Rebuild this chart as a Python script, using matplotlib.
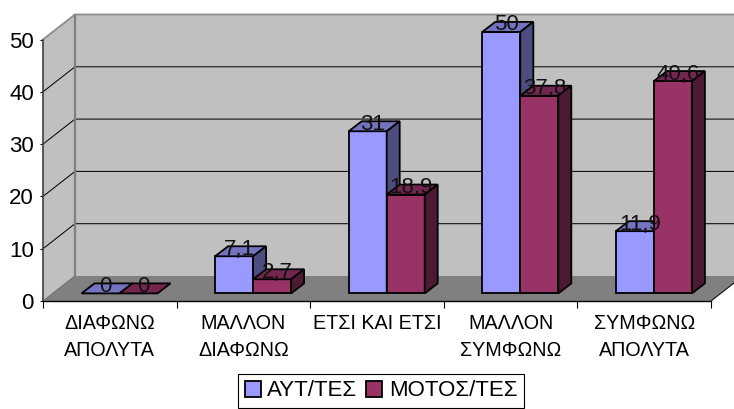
import matplotlib
matplotlib.use("Agg")
import matplotlib.pyplot as plt
from matplotlib.patches import Polygon, Patch

plt.rcParams['font.family'] = ['Liberation Sans', 'DejaVu Sans']

categories = ["ΔΙΑΦΩΝΩ\nΑΠΟΛΥΤΑ", "ΜΑΛΛΟΝ\nΔΙΑΦΩΝΩ", "ΕΤΣΙ ΚΑΙ ΕΤΣΙ", "ΜΑΛΛΟΝ\nΣΥΜΦΩΝΩ", "ΣΥΜΦΩΝΩ\nΑΠΟΛΥΤΑ"]
aut_tes = [0, 7.1, 31, 50, 11.9]
motos_tes = [0, 2.7, 18.9, 37.8, 40.6]
aut_labels = ["0", "7,1", "31", "50", "11,9"]
motos_labels = ["0", "2,7", "18,9", "37,8", "40,6"]
y_ticks = [0, 10, 20, 30, 40, 50]
series_names = ["ΑΥΤ/ΤΕΣ", "ΜΟΤΟΣ/ΤΕΣ"]

W, H = 734, 409
left, right, y0, y50 = 43, 711, 301, 39.5
px_x = (right - left) / 5   # pixels per category
px_y = (y0 - y50) / 50      # pixels per value unit

fig = plt.figure(figsize=(W / 100, H / 100), dpi=100)
ax = fig.add_axes([left / W, (H - y0) / H, (right - left) / W, (y0 - y50) / H])
ax.set_xlim(0, 5)
ax.set_ylim(0, 50)
ax.patch.set_visible(False)


def dx(p):
    return p / px_x


def dy(p):
    return p / px_y


## Walls and floor
wall_x, wall_y = dx(32), dy(25)
wall = '#C0C0C0'
ax.add_patch(Polygon([(0, 0), (wall_x, wall_y), (wall_x, 50 + wall_y), (0, 50)], fc=wall, ec='none', zorder=1, clip_on=False))
ax.add_patch(Polygon([(wall_x, wall_y), (5 + wall_x, wall_y), (5 + wall_x, 50 + wall_y), (wall_x, 50 + wall_y)],
                     fc=wall, ec='none', zorder=1, clip_on=False))
ax.add_patch(Polygon([(0, 0), (5, 0), (5 + wall_x, wall_y), (wall_x, wall_y)], fc='#808080', ec='none', zorder=1.2, clip_on=False))

for v in y_ticks[1:-1]:
    ax.plot([0, wall_x, 5 + wall_x], [v, v + wall_y, v + wall_y], color='black', lw=0.72, zorder=1.5, clip_on=False)
ax.plot([0, wall_x, 5 + wall_x], [50, 50 + wall_y, 50 + wall_y], color='#8C8C8C', lw=1.3, zorder=1.5, clip_on=False)
ax.plot([wall_x, wall_x], [wall_y, 50 + wall_y], color='#808080', lw=1.6, zorder=1.5, clip_on=False)
ax.plot([0, wall_x], [0, wall_y], color='#6E6E6E', lw=0.8, zorder=1.5, clip_on=False)
ax.plot([5, 5 + wall_x], [0, wall_y], color='black', lw=0.72, zorder=1.5, clip_on=False)

## Bars
base_x, base_y = dx(10), dy(7.6)
bar_w = dx(38)
gap = dx(28.5)
dep_x, dep_y = dx(13), dy(10)
label_up = dy(7)


def draw_bar(x, v, front, top, side):
    b = base_y
    ax.bar(x, v, bar_w, bottom=b, align='edge', color=front, edgecolor='black', lw=1.3, zorder=3, clip_on=False)
    ax.add_patch(Polygon([(x, b + v), (x + bar_w, b + v), (x + bar_w + dep_x, b + v + dep_y), (x + dep_x, b + v + dep_y)],
                         fc=top, ec='black', lw=1.3, zorder=3, clip_on=False))
    if v > 0:
        ax.add_patch(Polygon([(x + bar_w, b), (x + bar_w + dep_x, b + dep_y), (x + bar_w + dep_x, b + v + dep_y), (x + bar_w, b + v)],
                             fc=side, ec='black', lw=1.3, zorder=3, clip_on=False))


for i in range(5):
    x1 = i + base_x + gap
    x2 = x1 + bar_w
    draw_bar(x1, aut_tes[i], '#9999FF', '#7373BF', '#4D4D80')
    draw_bar(x2, motos_tes[i], '#993366', '#732650', '#4D1A33')
for i in range(5):
    x1 = i + base_x + gap
    x2 = x1 + bar_w
    ax.text(x1 + bar_w / 2 + dx(5), aut_tes[i] + base_y + label_up, aut_labels[i], ha='center', va='center', fontsize=16, color='#111111', zorder=10)
    ax.text(x2 + bar_w / 2 + dx(5), motos_tes[i] + base_y + label_up, motos_labels[i], ha='center', va='center', fontsize=16, color='#111111', zorder=10)

## Axes
for s in ['top', 'right']:
    ax.spines[s].set_visible(False)
ax.spines['left'].set_color('#404040')
ax.spines['left'].set_linewidth(1.2)
ax.spines['bottom'].set_linewidth(1.0)
ax.spines['left'].set_zorder(2)
ax.spines['bottom'].set_zorder(2)
ax.set_yticks(y_ticks)
ax.tick_params(axis='y', labelsize=16, length=2.5, width=0.8, pad=4)
ax.set_xticks(range(6))
ax.set_xticklabels([])
ax.set_xticks([i + 0.5 for i in range(5)], minor=True)
ax.set_xticklabels(categories, minor=True, fontsize=14.2, linespacing=1.5)
ax.tick_params(axis='x', which='major', length=5, width=0.8)
ax.tick_params(axis='x', which='minor', length=0, pad=9.5)

handles = [Patch(fc='#9999FF', ec='black', lw=1.3), Patch(fc='#993366', ec='black', lw=1.3)]
leg = fig.legend(handles, series_names, ncol=2, loc='center', bbox_to_anchor=(381 / W, (H - 391) / H),
                 fontsize=16, fancybox=False, framealpha=1, edgecolor='black', handlelength=0.72, handleheight=0.72,
                 handletextpad=0.3, columnspacing=0.4, borderpad=0.3, borderaxespad=0)
leg.get_frame().set_linewidth(0.8)

fig.savefig("out.png", dpi=100)
